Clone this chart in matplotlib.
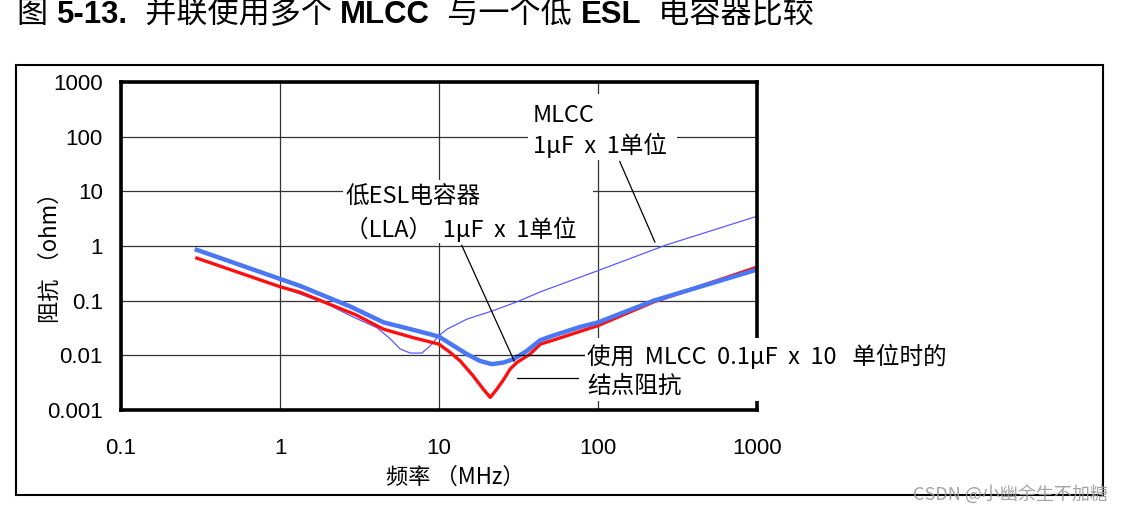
import matplotlib
matplotlib.use("Agg")
import matplotlib.pyplot as plt
from matplotlib.patches import Rectangle

# ========================= DATA =========================
# frequency in MHz, impedance in ohm
freq_red = [0.3, 1.0, 1.34, 3.0, 4.49, 6.9, 10, 11.8, 13.6, 16.4, 19, 21, 23.1, 25.5,
            28, 30.9, 37.3, 43.4, 52.3, 100, 224, 1000]
z_red = [0.6, 0.18, 0.142, 0.055, 0.030, 0.021, 0.016, 0.0112, 0.0079, 0.0042, 0.0024,
         0.0017, 0.0024, 0.0036, 0.0056, 0.0074, 0.0105, 0.016, 0.019, 0.035, 0.095, 0.41]

freq_blue = [0.3, 1.0, 1.34, 2.77, 4.49, 7.3, 10, 15, 18.1, 21.5, 25.5, 29.4, 35.6,
             43.4, 52.3, 77, 100, 224, 1000]
z_blue = [0.85, 0.25, 0.186, 0.078, 0.040, 0.028, 0.022, 0.0105, 0.0079, 0.0069, 0.0074,
          0.0085, 0.012, 0.019, 0.023, 0.033, 0.040, 0.1, 0.37]

freq_thin = [0.3, 1.0, 1.98, 2.77, 4.07, 4.94, 5.71, 6.6, 7.8, 8.8, 10, 11.2, 15, 22,
             30.9, 43.4, 100, 270, 1000]
z_thin = [0.6, 0.18, 0.087, 0.053, 0.032, 0.020, 0.013, 0.011, 0.011, 0.0149, 0.023,
          0.030, 0.046, 0.066, 0.095, 0.145, 0.355, 1.05, 3.5]

x_ticks = [0.1, 1, 10, 100, 1000]
x_tick_labels = ["0.1", "1", "10", "100", "1000"]
y_ticks = [0.001, 0.01, 0.1, 1, 10, 100, 1000]
y_tick_labels = ["0.001", "0.01", "0.1", "1", "10", "100", "1000"]

title_runs = [("图 ", "normal"), ("5-13.", "bold"), ("  并联使用多个 ", "normal"),
              ("MLCC", "bold"), ("  与一个低 ", "normal"), ("ESL", "bold"),
              ("  电容器比较", "normal")]
# ================================================================================

W, H = 1130, 522
CJK = ["Noto Sans CJK SC", "DejaVu Sans"]
MIX = ["Liberation Sans", "Noto Sans CJK SC", "DejaVu Sans"]


def px(x, y):
    # pixel (from top-left) -> figure fraction
    return x / W, 1 - y / H


def white_box(fig, x0, y0, x1, y1):
    # blank patch drawn over the axes (hides grid/spine behind the labels)
    fig.patches.append(Rectangle(px(x0, y1), (x1 - x0) / W, (y1 - y0) / H,
                                 transform=fig.transFigure, facecolor="white",
                                 edgecolor="none", zorder=1))


def draw_runs(fig, x0, y0, runs, size):
    renderer = fig.canvas.get_renderer()
    x = x0
    for s, weight in runs:
        fx, fy = px(x, y0)
        t = fig.text(fx, fy, s, fontsize=size, fontweight=weight, family=MIX,
                     ha="left", va="center")
        x += t.get_window_extent(renderer).width


def main():
    fig = plt.figure(figsize=(W / 100, H / 100), dpi=100)
    fig.patch.set_facecolor("white")

    # outer frame
    fig.patches.append(Rectangle(px(16, 495), (1103 - 16) / W, (495 - 65) / H,
                                 transform=fig.transFigure, fill=False,
                                 edgecolor="black", linewidth=1.5))

    left, right, top, bottom = 121, 757, 82, 410
    ax = fig.add_axes([left / W, 1 - bottom / H, (right - left) / W, (bottom - top) / H])
    ax.set_xscale("log")
    ax.set_yscale("log")
    ax.set_xlim(0.1, 1000)
    ax.set_ylim(0.001, 1000)

    ax.plot(freq_thin, z_thin, color="#5b5bff", linewidth=0.9, zorder=2)
    ax.plot(freq_red, z_red, color="#ff1010", linewidth=2.4, zorder=2.1)
    ax.plot(freq_blue, z_blue, color="#4a78f5", linewidth=3.2, zorder=2.2)

    ax.set_xticks(x_ticks)
    ax.set_xticklabels(x_tick_labels)
    ax.set_yticks(y_ticks)
    ax.set_yticklabels(y_tick_labels)
    ax.minorticks_off()
    ax.tick_params(length=0, labelsize=16, colors="black")
    ax.tick_params(axis="x", pad=20)
    ax.tick_params(axis="y", pad=13)
    for lab in ax.get_xticklabels() + ax.get_yticklabels():
        lab.set_family(MIX)
    ax.grid(True, which="major", color="#333333", linewidth=0.9)
    ax.set_axisbelow(True)
    for sp in ax.spines.values():
        sp.set_linewidth(2.6)
        sp.set_color("black")

    # axis labels
    fx, fy = px(455, 477)
    fig.text(fx, fy, "频率 （MHz）", fontsize=16, family=CJK, ha="center", va="center")
    fx, fy = px(50, 252)
    fig.text(fx, fy, "阻抗 （ohm）", fontsize=16, family=CJK, ha="center", va="center",
             rotation=90)

    # leader lines
    ax.plot([137, 228], [35.2, 1.18], color="black", linewidth=0.9, zorder=2.5)
    ax.plot([13.9, 29.7], [1.03, 0.0079], color="black", linewidth=0.9, zorder=2.5)
    ax.plot([30, 83], [0.01, 0.01], color="black", linewidth=0.9, zorder=2.5)
    ax.plot([30.9, 75], [0.0038, 0.0038], color="black", linewidth=0.9, zorder=2.5)

    # label backgrounds
    white_box(fig, 528, 94, 677, 160)
    white_box(fig, 343, 180, 593, 243)
    white_box(fig, 585, 338, 965, 401)

    notes = [
        (533, 115, "MLCC"),
        (533, 145, "1μF  x  1单位"),
        (345, 197, "低ESL电容器"),
        (345, 229, "（LLA）  1μF  x  1单位"),
        (587, 356, "使用  MLCC  0.1μF  x  10   单位时的"),
        (587, 386, "结点阻抗"),
    ]
    for x, y, s in notes:
        fx, fy = px(x, y)
        fig.text(fx, fy, s, fontsize=17, family=CJK, ha="left", va="center", zorder=5)

    draw_runs(fig, 17, 15, title_runs, 22.4)

    fx, fy = px(1010, 494)
    fig.text(fx, fy, "CSDN @小幽余生不加糖", fontsize=13, family=CJK, color="#9a9a9a",
             ha="center", va="center", alpha=0.9)

    fig.savefig("out.png", dpi=100)


if __name__ == '__main__':
    main()
